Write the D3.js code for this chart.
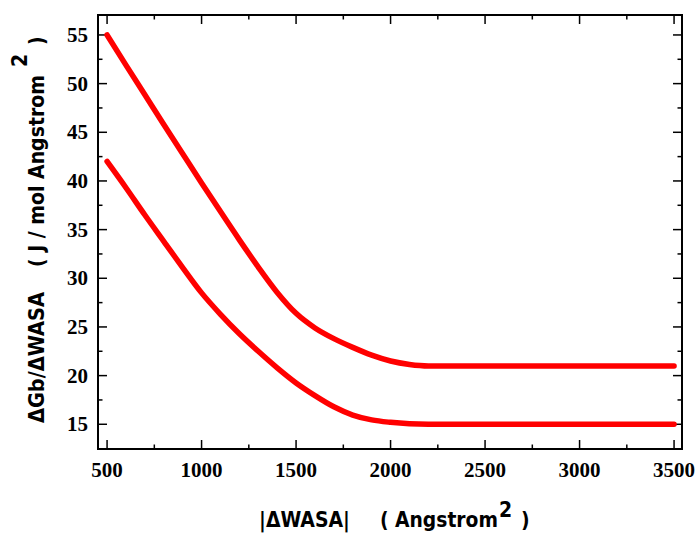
<!DOCTYPE html>
<html>
<head>
<meta charset="utf-8">
<script src="https://cdn.jsdelivr.net/npm/d3@7"></script>
<style>
  body { margin: 0; background: #fff; }
  svg { display: block; }
</style>
</head>
<body>
<script>
// data
var xs = [500, 600, 700, 800, 900, 1000, 1100, 1200, 1300, 1400, 1500, 1600, 1700, 1800, 1900, 2000, 2100, 2200, 2500, 3000, 3500];
var upper = [55, 51.9, 48.85, 45.8, 42.8, 39.8, 36.85, 33.95, 31.15, 28.55, 26.4, 24.9, 23.8, 22.9, 22.1, 21.5, 21.15, 21.0, 21.0, 21.0, 21.0];
var lower = [42, 39.3, 36.5, 33.8, 31.1, 28.5, 26.3, 24.3, 22.5, 20.8, 19.25, 17.95, 16.8, 15.95, 15.45, 15.2, 15.05, 15.0, 15.0, 15.0, 15.0];
var xTicks = [500, 1000, 1500, 2000, 2500, 3000, 3500];
var yTicks = [15, 20, 25, 30, 35, 40, 45, 50, 55];

var W = 697, H = 533;
var plot = {left: 98, top: 15, right: 682, bottom: 449};

var svg = d3.select('body').append('svg')
            .attr('width', W)
            .attr('height', H);

var x = d3.scaleLinear().domain([452, 3542]).range([plot.left, plot.right]);
var y = d3.scaleLinear().domain([12.46, 57.05]).range([plot.bottom, plot.top]);

var minorX = d3.range(500, 3501, 250).filter(function(d){ return d % 500 !== 0; });
var minorY = d3.range(15, 56, 2.5).filter(function(d){ return d % 5 !== 0; });

function ticks(vals, len, orient) {
  var g = svg.append('g').attr('stroke', '#000').attr('stroke-width', 1.5);
  vals.forEach(function(v){
    if (orient === 'bottom') g.append('line').attr('x1', x(v)).attr('x2', x(v)).attr('y1', plot.bottom).attr('y2', plot.bottom - len);
    if (orient === 'top') g.append('line').attr('x1', x(v)).attr('x2', x(v)).attr('y1', plot.top).attr('y2', plot.top + len);
    if (orient === 'left') g.append('line').attr('y1', y(v)).attr('y2', y(v)).attr('x1', plot.left).attr('x2', plot.left + len);
    if (orient === 'right') g.append('line').attr('y1', y(v)).attr('y2', y(v)).attr('x1', plot.right).attr('x2', plot.right - len);
  });
}
ticks(xTicks, 9, 'bottom'); ticks(minorX, 4.5, 'bottom');
ticks(xTicks, 9, 'top'); ticks(minorX, 4.5, 'top');
ticks(yTicks, 9, 'left'); ticks(minorY, 4.5, 'left');
ticks(yTicks, 9, 'right'); ticks(minorY, 4.5, 'right');

svg.append('rect')
   .attr('x', plot.left).attr('y', plot.top)
   .attr('width', plot.right - plot.left).attr('height', plot.bottom - plot.top)
   .attr('fill', 'none').attr('stroke', '#000').attr('stroke-width', 2);

// tick labels
svg.selectAll('text.xt').data(xTicks).enter().append('text')
   .attr('class', 'xt')
   .attr('x', function(d){ return x(d); })
   .attr('y', 477)
   .attr('text-anchor', 'middle')
   .style('font-family', 'Liberation Serif')
   .style('font-weight', 'bold')
   .style('font-size', '21px')
   .text(function(d){ return d; });

svg.selectAll('text.yt').data(yTicks).enter().append('text')
   .attr('class', 'yt')
   .attr('x', 88)
   .attr('y', function(d){ return y(d) + 7; })
   .attr('text-anchor', 'end')
   .style('font-family', 'Liberation Serif')
   .style('font-weight', 'bold')
   .style('font-size', '21px')
   .text(function(d){ return d; });

// curves
var line = d3.line()
  .x(function(d){ return x(d[0]); })
  .y(function(d){ return y(d[1]); })
  .curve(d3.curveMonotoneX);

[upper, lower].forEach(function(s){
  svg.append('path')
     .datum(xs.map(function(v, i){ return [v, s[i]]; }))
     .attr('d', line)
     .attr('fill', 'none')
     .attr('stroke', '#ff0000')
     .attr('stroke-width', 5.5)
     .attr('stroke-linecap', 'round')
     .attr('stroke-linejoin', 'round');
});

// axis titles, built from pieces; a piece with a length gets stretched to it
var labFont = '"DejaVu Sans Condensed", "DejaVu Sans", sans-serif';
function piece(parent, str, px, py, len) {
  var g = parent.append('g');
  var t = g.append('text')
     .attr('x', 0).attr('y', 0)
     .style('font-family', labFont).style('font-weight', 'bold').style('font-size', '21px')
     .attr('xml:space', 'preserve')
     .text(str);
  var k = 1;
  if (len) {
    var nat = t.node().getComputedTextLength();
    if (nat > 0) k = len / nat;
  }
  g.attr('transform', 'translate(' + px + ',' + py + ') scale(' + k + ',1)');
  return g;
}
var xl = svg.append('g');
piece(xl, '|\u0394WASA|', 259, 527, 91);
piece(xl, '( Angstrom', 380, 527, 118);
piece(xl, '2', 499, 517);
piece(xl, ')', 521, 527);

var yl = svg.append('g').attr('transform', 'translate(44,0) rotate(-90)');
piece(yl, '\u0394Gb/\u0394WASA', -423, 0, 131);
piece(yl, '( J / mol Angstrom', -267, 0, 192);
piece(yl, '2', -67, -17);
piece(yl, ')', -45, 0);
</script>
</body>
</html>
